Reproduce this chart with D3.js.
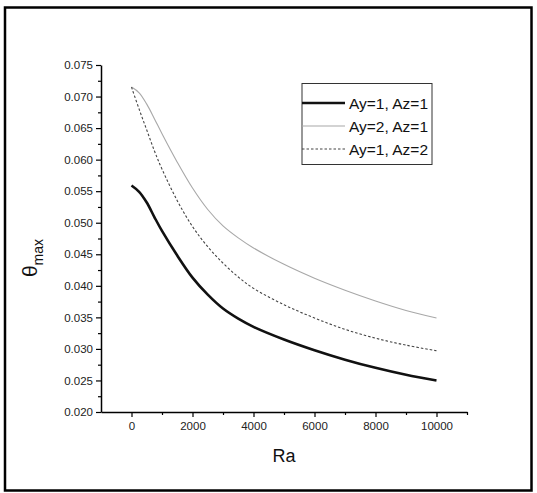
<!DOCTYPE html>
<html><head><meta charset="utf-8">
<script src="https://cdn.jsdelivr.net/npm/d3@7"></script>
<style>body{margin:0;background:#fff}svg{display:block}text{font-family:Arial,"Liberation Sans",sans-serif}</style>
</head><body><svg id="c" width="537" height="493"></svg>
<script>
const ra = [0,250,500,750,1000,1500,2000,2500,3000,3500,4000,5000,6000,7000,8000,9000,10000];
const ay1az1 = [0.0559,0.0549,0.0532,0.0509,0.0487,0.0448,0.0413,0.0386,0.0364,0.0348,0.0335,0.0315,0.0298,0.0283,0.0270,0.0259,0.0250];
const ay2az1 = [0.0715,0.0706,0.0688,0.0665,0.0641,0.0596,0.0555,0.0521,0.0495,0.0476,0.0460,0.0434,0.0412,0.0393,0.0376,0.0361,0.0349];
const ay1az2 = [0.0715,0.0680,0.0647,0.0614,0.0585,0.0535,0.0494,0.0462,0.0436,0.0414,0.0396,0.0370,0.0349,0.0331,0.0317,0.0306,0.0297];
const seriesNames = ["Ay=1, Az=1","Ay=2, Az=1","Ay=1, Az=2"];
const xTicks = [0,2000,4000,6000,8000,10000];
const yTicks = [0.020,0.025,0.030,0.035,0.040,0.045,0.050,0.055,0.060,0.065,0.070,0.075];

const svg = d3.select("#c");
svg.append("rect").attr("x",5).attr("y",7.5).attr("width",526.5).attr("height",483)
  .attr("fill","none").attr("stroke","#000").attr("stroke-width",2.5);

const x = d3.scaleLinear().domain([-1000,11000]).range([101,467]);
const y = d3.scaleLinear().domain([0.020,0.075]).range([412,65]);

const xa = svg.append("g").attr("transform","translate(0,412)");
xa.call(d3.axisBottom(x).tickValues(xTicks).tickSize(5).tickPadding(5).tickFormat(d3.format("d")).tickSizeOuter(0));
const xm = svg.append("g").attr("transform","translate(0,412)");
xm.call(d3.axisBottom(x).tickValues(d3.range(-1000,11001,1000).filter(v=>v%2000!==0 && v>-1000)).tickSize(3).tickFormat("").tickSizeOuter(0));
xm.select(".domain").remove();
const ya = svg.append("g").attr("transform","translate(101,0)");
ya.call(d3.axisLeft(y).tickValues(yTicks).tickSize(5).tickPadding(3).tickFormat(d3.format(".3f")).tickSizeOuter(0));
const ym = svg.append("g").attr("transform","translate(101,0)");
ym.call(d3.axisLeft(y).tickValues(d3.range(0,11).map(i=>0.0225+i*0.005)).tickSize(3).tickFormat("").tickSizeOuter(0));
ym.select(".domain").remove();
svg.selectAll(".domain").attr("stroke","#000").attr("stroke-width",1.5);
svg.selectAll(".tick line").attr("stroke","#000").attr("stroke-width",1.2);
svg.selectAll(".tick text").attr("fill","#222").style("font-size","11.5px");

svg.append("text").attr("x",284).attr("y",462).attr("text-anchor","middle")
  .style("font-size","18px").attr("fill","#111").text("Ra");
const yt = svg.append("text").attr("transform","translate(37,258) rotate(-90)").attr("text-anchor","middle").attr("fill","#111");
yt.append("tspan").style("font-size","21px").text("θ");
yt.append("tspan").attr("dy",6).style("font-size","14px").text("max");

const data = [ay1az1, ay2az1, ay1az2];
const styles = [
  {stroke:"#111", w:2.6, dash:null},
  {stroke:"#a8a8a8", w:1.1, dash:null},
  {stroke:"#444", w:1.1, dash:"2.5,2"}
];
const line = d3.line().x(d=>x(d[0])).y(d=>y(d[1])).curve(d3.curveCatmullRom.alpha(0.5));
data.forEach((s,i)=>{
  svg.append("path").datum(ra.map((r,j)=>[r,s[j]]))
    .attr("d",line).attr("fill","none").attr("stroke",styles[i].stroke)
    .attr("stroke-width",styles[i].w).attr("stroke-dasharray",styles[i].dash);
});

svg.append("rect").attr("x",302).attr("y",83.5).attr("width",130).attr("height",81)
  .attr("fill","#fff").attr("stroke","#333").attr("stroke-width",1);
seriesNames.forEach((n,i)=>{
  const yy = 103 + i*23;
  svg.append("line").attr("x1",302).attr("x2",345).attr("y1",yy).attr("y2",yy)
    .attr("stroke",styles[i].stroke).attr("stroke-width",styles[i].w).attr("stroke-dasharray",styles[i].dash);
  svg.append("text").attr("x",349).attr("y",yy+5.5).style("font-size","15.5px").attr("fill","#111").text(n);
});
</script></body></html>
